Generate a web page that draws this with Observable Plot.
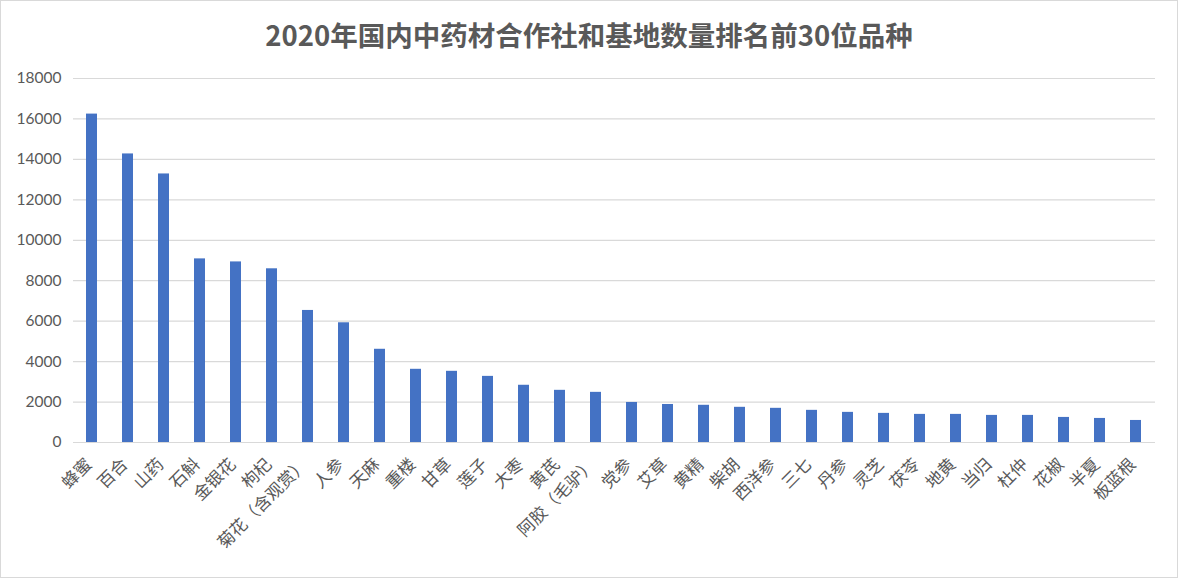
<!DOCTYPE html>
<html>
<head>
<meta charset="utf-8">
<script src="https://cdn.jsdelivr.net/npm/d3@7"></script>
<script src="https://cdn.jsdelivr.net/npm/@observablehq/plot@0.6"></script>
<style>
  html, body { margin: 0; padding: 0; background: #fff; }
  #wrap { position: relative; width: 1178px; height: 578px; overflow: hidden; background: #fff; }
  #title { position: absolute; left: 0; top: 0; width: 1178px; height: 60px; box-sizing: border-box;
           padding-top: 18px; line-height: 32px; text-align: center;
           font-family: "Noto Sans CJK SC", "Noto Sans", sans-serif; font-weight: bold; font-size: 27.5px; color: #595959; }
  #chart { position: absolute; left: 0; top: 60px; }
  #frame { position: absolute; left: 0; top: 0; width: 1178px; height: 578px; box-sizing: border-box;
           border: 1px solid #d9d9d9; pointer-events: none; }
</style>
</head>
<body>
<div id="wrap">
  <div id="title">2020年国内中药材合作社和基地数量排名前30位品种</div>
  <div id="chart"></div>
  <div id="frame"></div>
</div>
<script>
const categories = ["蜂蜜","百合","山药","石斛","金银花","枸杞","菊花（含观赏）","人参","天麻","重楼",
  "甘草","莲子","大枣","黄芪","阿胶（毛驴）","党参","艾草","黄精","柴胡","西洋参",
  "三七","丹参","灵芝","茯苓","地黄","当归","杜仲","花椒","半夏","板蓝根"];
const values = [16240,14270,13280,9080,8930,8590,6530,5920,4610,3620,
  3520,3270,2830,2580,2480,1980,1880,1840,1740,1690,
  1590,1490,1440,1390,1390,1340,1340,1240,1190,1090];
const yTicks = [0,2000,4000,6000,8000,10000,12000,14000,16000,18000];

const data = categories.map((c, i) => ({name: c, value: values[i]}));

const chart = Plot.plot({
  width: 1178,
  height: 518,
  marginTop: 18,
  marginBottom: 136,
  marginLeft: 73,
  marginRight: 23,
  style: {background: "#fff", overflow: "visible"},
  x: {domain: categories, paddingInner: 0.69, paddingOuter: 0.345, label: null},
  y: {domain: [0, 18000], label: null},
  marks: [
    Plot.ruleY(yTicks, {stroke: "#d9d9d9", strokeWidth: 1.2}),
    Plot.barY(data, {x: "name", y: "value", fill: "#4472c4"}),
    Plot.axisY(yTicks, {tickSize: 0, tickPadding: 12, fontSize: 15.5, fill: "#595959",
      fontFamily: "Lato, 'Noto Sans', sans-serif", tickFormat: d => String(d), label: null}),
    Plot.axisX({tickRotate: -45, tickSize: 0, tickPadding: 19, dx: -3, fontSize: 17, fill: "#595959",
      fontFamily: "'Noto Sans CJK SC', sans-serif", label: null})
  ]
});
document.getElementById("chart").appendChild(chart);
</script>
</body>
</html>
